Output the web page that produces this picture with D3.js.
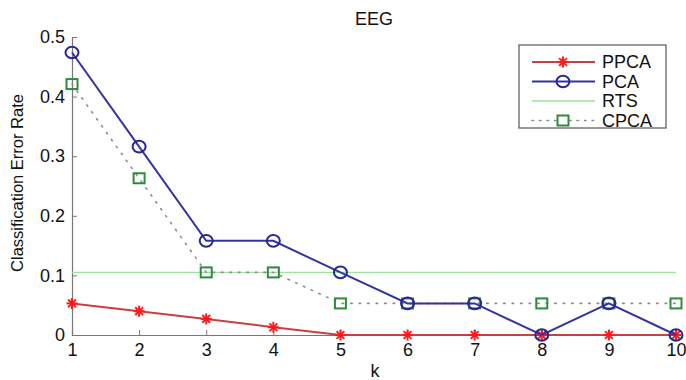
<!DOCTYPE html>
<html>
<head>
<meta charset="utf-8">
<script src="https://cdn.jsdelivr.net/npm/d3@7"></script>
<style>
  body { margin: 0; background: #fff; }
  text { font-family: "Liberation Sans", Arial, sans-serif; fill: #111; }
</style>
</head>
<body>
<div id="chart"></div>
<script>
// data
const ks = [1, 2, 3, 4, 5, 6, 7, 8, 9, 10];
const ppca = [0.053, 0.040, 0.027, 0.013, 0, 0, 0, 0, 0, 0];
const pca = [0.474, 0.316, 0.158, 0.158, 0.105, 0.053, 0.053, 0, 0.053, 0];
const rts = [0.105, 0.105, 0.105, 0.105, 0.105, 0.105, 0.105, 0.105, 0.105, 0.105];
const cpca = [0.421, 0.263, 0.105, 0.105, 0.053, 0.053, 0.053, 0.053, 0.053, 0.053];
const yTicks = [0, 0.1, 0.2, 0.3, 0.4, 0.5];
const seriesNames = ["PPCA", "PCA", "RTS", "CPCA"];

const width = 686, height = 380;
const margin = {top: 37, right: 10, bottom: 45, left: 72};

const svg = d3.select("#chart").append("svg")
    .attr("width", width)
    .attr("height", height);

const x = d3.scaleLinear().domain([1, 10]).range([margin.left, width - margin.right]);
const y = d3.scaleLinear().domain([0, 0.5]).range([height - margin.bottom, margin.top]);

// axes (ticks point inward like matlab)
const xAxis = svg.append("g")
    .attr("transform", `translate(0,${y(0)})`)
    .call(d3.axisBottom(x).tickValues(ks).tickSize(-5).tickPadding(10).tickFormat(d3.format("d")));
const yAxis = svg.append("g")
    .attr("transform", `translate(${x(1)},0)`)
    .call(d3.axisLeft(y).tickValues(yTicks).tickSize(-5).tickPadding(7).tickFormat(d => d === 0 ? "0" : d3.format(".1f")(d)));

[xAxis, yAxis].forEach(a => {
    a.select(".domain").attr("stroke", "#777").attr("stroke-width", 1.2);
    a.selectAll(".tick line").attr("stroke", "#777");
    a.selectAll("text").style("font-size", "18px").attr("fill", "#111");
});
xAxis.selectAll("text").attr("dy", "0.6em");

// title and labels
svg.append("text").attr("x", 374).attr("y", 25).attr("text-anchor", "middle")
    .style("font-size", "18px").text("EEG");
svg.append("text").attr("x", 375).attr("y", 377).attr("text-anchor", "middle")
    .style("font-size", "18px").text("k");
svg.append("text")
    .attr("transform", `translate(23,183) rotate(-90)`)
    .attr("text-anchor", "middle")
    .style("font-size", "16.5px").text("Classification Error Rate");

const line = d3.line().x((d, i) => x(ks[i])).y(d => y(d));

// RTS reference line
svg.append("path").datum(rts).attr("d", line)
    .attr("fill", "none").attr("stroke", "#9be39b").attr("stroke-width", 1.3);

// CPCA dotted
svg.append("path").datum(cpca).attr("d", line)
    .attr("fill", "none").attr("stroke", "#8a8a8a").attr("stroke-width", 1.6)
    .attr("stroke-dasharray", "1.5,7").attr("stroke-linecap", "round");
svg.append("g").selectAll("rect").data(cpca).join("rect")
    .attr("x", (d, i) => x(ks[i]) - 5.5).attr("y", d => y(d) - 5)
    .attr("width", 11).attr("height", 10)
    .attr("fill", "none").attr("stroke", "#2e8b3a").attr("stroke-width", 2);

// asterisk marker
function star(g, cx, cy, r, color) {
    [0, 45, 90, 135].forEach(a => {
        const t = a * Math.PI / 180;
        g.append("line")
            .attr("x1", cx - r * Math.cos(t)).attr("y1", cy - r * Math.sin(t))
            .attr("x2", cx + r * Math.cos(t)).attr("y2", cy + r * Math.sin(t))
            .attr("stroke", color).attr("stroke-width", 2);
    });
}

// PPCA
svg.append("path").datum(ppca).attr("d", line)
    .attr("fill", "none").attr("stroke", "#c8403f").attr("stroke-width", 2);
const ppcaG = svg.append("g");
ppca.forEach((d, i) => star(ppcaG, x(ks[i]), y(d), 5.5, "#ff1a1a"));

// PCA
svg.append("path").datum(pca).attr("d", line)
    .attr("fill", "none").attr("stroke", "#3434a0").attr("stroke-width", 2);
svg.append("g").selectAll("ellipse").data(pca).join("ellipse")
    .attr("cx", (d, i) => x(ks[i])).attr("cy", d => y(d)).attr("rx", 6.5).attr("ry", 5.8)
    .attr("fill", "none").attr("stroke", "#262696").attr("stroke-width", 2);

// legend
const lg = svg.append("g").attr("transform", "translate(519,45)");
lg.append("rect").attr("width", 147).attr("height", 83)
    .attr("fill", "#fff").attr("stroke", "#555").attr("stroke-width", 1.2);
seriesNames.forEach((name, i) => {
    const yy = 17 + i * 19.5;
    const row = lg.append("g").attr("transform", `translate(0,${yy})`);
    if (name === "PPCA") {
        row.append("line").attr("x1", 13).attr("x2", 76).attr("stroke", "#c8403f").attr("stroke-width", 2);
        star(row, 44, 0, 5.5, "#ff1a1a");
    } else if (name === "PCA") {
        row.append("line").attr("x1", 13).attr("x2", 76).attr("stroke", "#3434a0").attr("stroke-width", 2);
        row.append("ellipse").attr("cx", 44).attr("rx", 6.5).attr("ry", 5.8).attr("fill", "none").attr("stroke", "#262696").attr("stroke-width", 2);
    } else if (name === "RTS") {
        row.append("line").attr("x1", 13).attr("x2", 76).attr("stroke", "#9be39b").attr("stroke-width", 1.3);
    } else {
        row.append("line").attr("x1", 13).attr("x2", 76).attr("stroke", "#8a8a8a").attr("stroke-width", 1.6)
            .attr("stroke-dasharray", "1.5,6").attr("stroke-linecap", "round");
        row.append("rect").attr("x", 38.5).attr("y", -5).attr("width", 11).attr("height", 10)
            .attr("fill", "#fff").attr("stroke", "#2e8b3a").attr("stroke-width", 2);
    }
    row.append("text").attr("x", 83).attr("y", 0).attr("dy", "0.36em")
        .style("font-size", "18px").text(name);
});
</script>
</body>
</html>
